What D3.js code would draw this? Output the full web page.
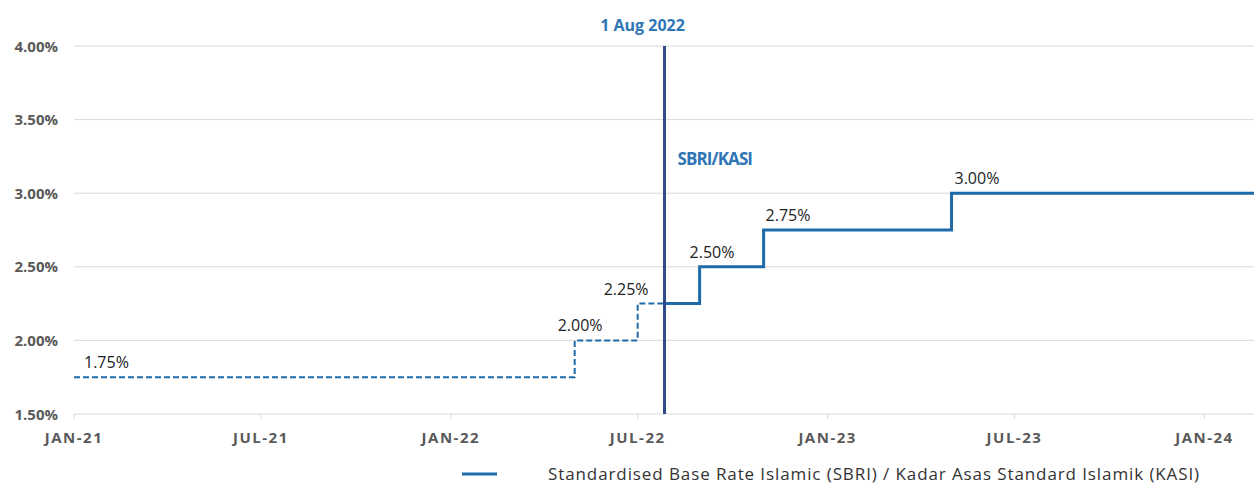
<!DOCTYPE html>
<html>
<head>
<meta charset="utf-8">
<script src="https://cdn.jsdelivr.net/npm/d3@7"></script>
<style>
  body { margin: 0; background: #fff; }
  svg { display: block; font-family: "Open Sans", sans-serif; }
</style>
</head>
<body>
<div id="chart"></div>
<script>
const width = 1254
const height = 484

// step dates (rate takes effect) and the rate after each date
const stepDates = ["2021-01-01", "2022-05-01", "2022-07-01", "2022-08-30", "2022-10-31", "2023-05-01"]
const stepRates = [1.75, 2.00, 2.25, 2.50, 2.75, 3.00]
const endDate = "2024-02-18"
const markerDate = "2022-07-27"   // where SBRI/KASI starts, drawn as vertical line
const markerLabel = "1 Aug 2022"
const yTicks = [1.5, 2.0, 2.5, 3.0, 3.5, 4.0]
const xTicks = ["2021-01-01", "2021-07-01", "2022-01-01", "2022-07-01", "2023-01-01", "2023-07-01", "2024-01-01"]
const labelShift = [10, -17, -34, -10, 2, 3]

const parse = d3.utcParse("%Y-%m-%d")
const blue = "#1f6aa8"
const axisGrey = "#595959"

const x = d3.scaleUtc()
  .domain([parse(stepDates[0]), parse(endDate)])
  .range([74, 1254])

const y = d3.scaleLinear()
  .domain([1.5, 4.0])
  .range([414, 46])

const svg = d3.select("#chart").append("svg")
  .attr("width", width)
  .attr("height", height)

// gridlines
svg.append("g")
  .selectAll("line")
  .data(yTicks)
  .join("line")
  .attr("x1", 74)
  .attr("x2", width)
  .attr("y1", d => y(d))
  .attr("y2", d => y(d))
  .attr("stroke", "#d9d9d9")
  .attr("stroke-width", 1)

// y labels
svg.append("g")
  .selectAll("text")
  .data(yTicks)
  .join("text")
  .attr("x", 58)
  .attr("y", d => y(d) + 5.5)
  .attr("text-anchor", "end")
  .attr("font-size", 15)
  .attr("font-weight", "bold")
  .attr("fill", axisGrey)
  .text(d => d3.format(".2f")(d) + "%")

// x axis ticks + labels
const fmt = d3.utcFormat("%b-%y")
const xg = svg.append("g")
xg.selectAll("line")
  .data(xTicks)
  .join("line")
  .attr("x1", d => x(parse(d)))
  .attr("x2", d => x(parse(d)))
  .attr("y1", 414)
  .attr("y2", 419)
  .attr("stroke", "#d9d9d9")
xg.selectAll("text")
  .data(xTicks)
  .join("text")
  .attr("x", d => x(parse(d)))
  .attr("y", 443)
  .attr("text-anchor", "middle")
  .attr("font-size", 15)
  .attr("font-weight", "bold")
  .attr("letter-spacing", 1.5)
  .attr("fill", axisGrey)
  .text(d => fmt(parse(d)).toUpperCase())

// build step points
const pts = stepDates.map((d, i) => ({ date: parse(d), rate: stepRates[i] }))
pts.push({ date: parse(endDate), rate: stepRates[stepRates.length - 1] })

const mDate = parse(markerDate)
const rateAt = dt => {
  let r = stepRates[0]
  pts.forEach(p => { if (p.date <= dt) r = p.rate })
  return r
}
const before = pts.filter(p => p.date < mDate).concat([{ date: mDate, rate: rateAt(mDate) }])
const after = [{ date: mDate, rate: rateAt(mDate) }].concat(pts.filter(p => p.date > mDate))

const line = d3.line()
  .x(d => x(d.date))
  .y(d => y(d.rate))
  .curve(d3.curveStepAfter)

svg.append("path")
  .attr("d", line(before))
  .attr("fill", "none")
  .attr("stroke", blue)
  .attr("stroke-width", 2)
  .attr("stroke-dasharray", "6,3")

svg.append("path")
  .attr("d", line(after))
  .attr("fill", "none")
  .attr("stroke", blue)
  .attr("stroke-width", 3)

// vertical marker
svg.append("line")
  .attr("x1", x(mDate))
  .attr("x2", x(mDate))
  .attr("y1", y(4.0))
  .attr("y2", y(1.5))
  .attr("stroke", "#2f4b8c")
  .attr("stroke-width", 3)

svg.append("text")
  .attr("x", x(mDate) - 22)
  .attr("y", 31)
  .attr("text-anchor", "middle")
  .attr("font-size", 16)
  .attr("font-weight", "bold")
  .attr("fill", "#2e75b6")
  .text(markerLabel)

svg.append("text")
  .attr("x", x(mDate) + 13)
  .attr("y", 165)
  .attr("font-size", 17)
  .attr("font-weight", "bold")
  .attr("letter-spacing", -0.9)
  .attr("fill", "#2e75b6")
  .text("SBRI/KASI")

// value labels
svg.append("g")
  .selectAll("text")
  .data(pts.slice(0, stepRates.length))
  .join("text")
  .attr("x", (d, i) => x(d.date) + labelShift[i])
  .attr("y", d => y(d.rate) - 9)
  .attr("font-size", 16)
  .attr("fill", "#222")
  .text(d => d3.format(".2f")(d.rate) + "%")

// legend
svg.append("line")
  .attr("x1", 462)
  .attr("x2", 497)
  .attr("y1", 474)
  .attr("y2", 474)
  .attr("stroke", blue)
  .attr("stroke-width", 3)

svg.append("text")
  .attr("x", 548)
  .attr("y", 480)
  .attr("font-size", 17)
  .attr("letter-spacing", 0.9)
  .attr("fill", "#333")
  .text("Standardised Base Rate Islamic (SBRI) / Kadar Asas Standard Islamik (KASI)")
</script>
</body>
</html>
